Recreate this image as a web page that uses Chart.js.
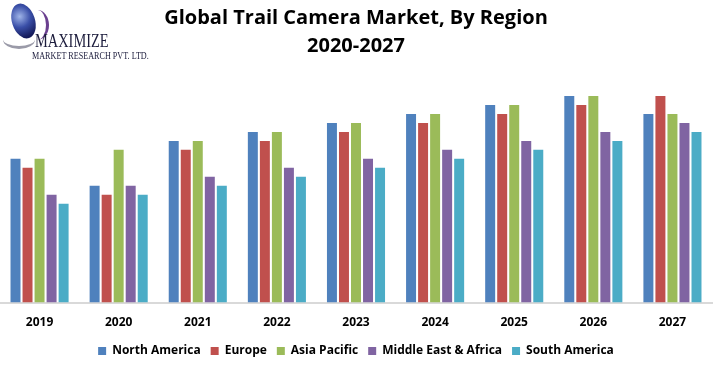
<!DOCTYPE html>
<html>
<head>
<meta charset="utf-8">
<script src="https://cdn.jsdelivr.net/npm/chart.js@4"></script>
<style>
    body { margin: 0; background: #fff; }
    #wrap { position: relative; width: 724px; height: 371px; }
    #logo { position: absolute; left: 0; top: 0; width: 160px; height: 64px; }
    .globe {
        position: absolute; left: 12px; top: 3px; width: 23px; height: 36px;
        border-radius: 50%; transform: rotate(-18deg);
        background: radial-gradient(circle at 40% 35%, #9fb4e8 0%, #3a4fa8 40%, #141a5a 80%);
    }
    .swoosh1 {
        position: absolute; left: 26px; top: 10px; width: 20px; height: 30px;
        border-right: 3px solid #6a3f8f; border-radius: 50%;
    }
    .swoosh2 {
        position: absolute; left: 3px; top: 30px; width: 32px; height: 16px;
        border-bottom: 3px solid #9a9aa8; border-radius: 50%;
    }
    .brand {
        position: absolute; left: 35px; top: 32px; color: #1c1c3c;
        font-family: "Liberation Serif", serif; font-size: 18px; line-height: 18px;
        transform: scaleX(0.8); transform-origin: left top; white-space: nowrap;
    }
    .sub {
        position: absolute; left: 32px; top: 50px; color: #1c1c3c;
        font-family: "Liberation Serif", serif; font-size: 11px; line-height: 11px;
        transform: scaleX(0.74); transform-origin: left top; white-space: nowrap;
    }
</style>
</head>
<body>
<div id="wrap">
    <canvas id="chart" width="724" height="371"></canvas>
    <div id="logo">
        <div class="swoosh2"></div>
        <div class="globe"></div>
        <div class="swoosh1"></div>
        <div class="brand">MAXIMIZE</div>
        <div class="sub">MARKET RESEARCH PVT. LTD.</div>
    </div>
</div>
<script>
//=================================================
//Data
//=================================================
const years = ["2019", "2020", "2021", "2022", "2023", "2024", "2025", "2026", "2027"];
const regions = ["North America", "Europe", "Asia Pacific", "Middle East & Africa", "South America"];

const northAmerica = [16, 13, 18, 19, 20, 21, 22, 23, 21];
const europe = [15, 12, 17, 18, 19, 20, 21, 22, 23];
const asiaPacific = [16, 17, 18, 19, 20, 21, 22, 23, 21];
const middleEastAfrica = [12, 13, 14, 15, 16, 17, 18, 19, 20];
const southAmerica = [11, 12, 13, 14, 15, 16, 17, 18, 19];

const colors = ["#4F81BD", "#C0504D", "#9BBB59", "#8064A2", "#4BACC6"];

//=================================================
//Chart.js
//=================================================
const series = [northAmerica, europe, asiaPacific, middleEastAfrica, southAmerica];

const data = {
    labels: years,
    datasets: series.map((values, i) => ({
        label: regions[i],
        data: values,
        backgroundColor: colors[i],
        categoryPercentage: 0.76,
        barPercentage: 0.83,
    })),
};

const config = {
    type: "bar",
    data: data,
    options: {
        responsive: false,
        animation: false,
        layout: {
            padding: { left: 0, right: 12, top: 0, bottom: 4 },
        },
        scales: {
            x: {
                grid: { display: false },
                border: { display: true, color: "#d9d9d9", width: 2 },
                ticks: {
                    color: "#000",
                    padding: 5,
                    font: { size: 12, weight: "bold", family: "'Open Sans', sans-serif" },
                },
            },
            y: {
                display: false,
                min: 0,
                max: 25,
            },
        },
        plugins: {
            title: {
                display: true,
                text: ["Global Trail Camera Market, By Region", "2020-2027"],
                color: "#000",
                font: { size: 20, weight: "bold", family: "'Open Sans', sans-serif", lineHeight: 1.4 },
                padding: { top: 4, bottom: 18 },
            },
            legend: {
                position: "bottom",
                labels: {
                    boxWidth: 8,
                    boxHeight: 8,
                    padding: 10,
                    color: "#000",
                    font: { size: 12, weight: "bold", family: "'Open Sans', sans-serif" },
                },
            },
            tooltip: { enabled: false },
        },
    },
};

new Chart(document.getElementById("chart"), config);
</script>
</body>
</html>
